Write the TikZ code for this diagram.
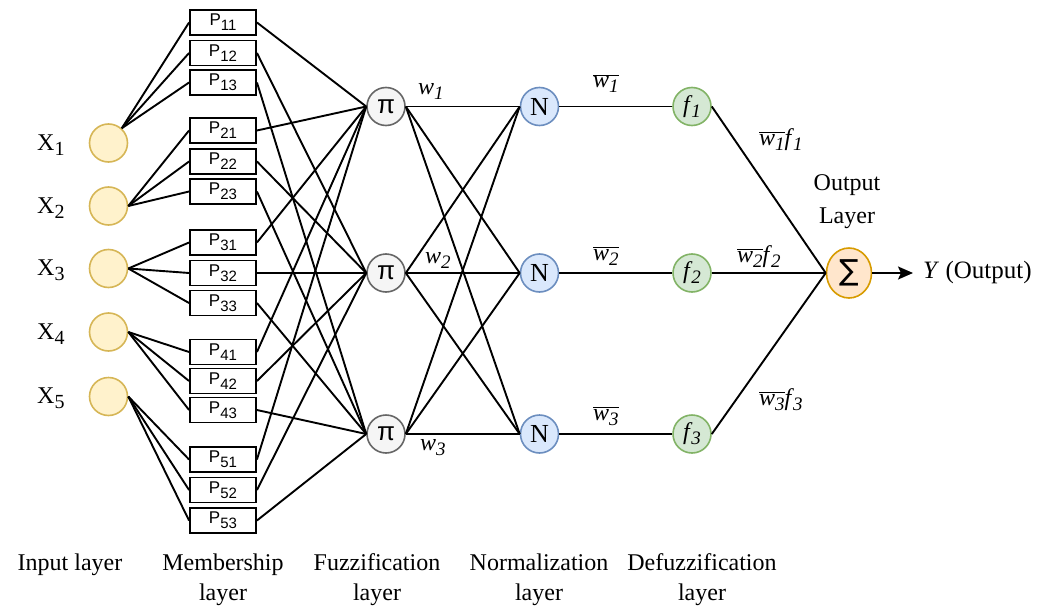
\documentclass[tikz,border=0pt]{standalone}
\usepackage{fontspec}
\setmainfont{Liberation Serif}
\newfontfamily\psans{Liberation Sans}
\newfontfamily\dejavu{DejaVu Sans}
\usetikzlibrary{arrows.meta,shapes.geometric}

\definecolor{xfill}{HTML}{FFF2CC}
\definecolor{xdraw}{HTML}{D6B656}
\definecolor{pifill}{HTML}{F5F5F5}
\definecolor{pidraw}{HTML}{666666}
\definecolor{nfill}{HTML}{DAE8FC}
\definecolor{ndraw}{HTML}{6C8EBF}
\definecolor{ffill}{HTML}{D5E8D4}
\definecolor{fdraw}{HTML}{82B366}
\definecolor{sfill}{HTML}{FFE6CC}
\definecolor{sdraw}{HTML}{D79B00}

\newcommand\bigtxt{\fontsize{24}{28}\selectfont}
\newcommand\subtxt[1]{\raisebox{-5pt}{\fontsize{19}{19}\selectfont #1}}
\newcommand\xsub[1]{\raisebox{-5pt}{\fontsize{20}{20}\selectfont #1}}
\newcommand\wsub[1]{\textit{w}\subtxt{\itshape #1}}
\newcommand\fsub[1]{\textit{f}\kern-1pt\subtxt{\itshape #1}}
\newcommand\wbar[1]{$\overline{\hbox{\wsub{#1}}}$}
\newcommand\pbl[1]{{\psans\fontsize{17}{17}\selectfont P\raisebox{-5pt}{\fontsize{15}{15}\selectfont #1}}}

\begin{document}
\begin{tikzpicture}[x=1pt,y=-1pt,
  every node/.style={inner sep=0pt, font=\bigtxt},
  conn/.style={line width=1.9pt, black},
  xnode/.style={circle, minimum size=38pt, fill=xfill, draw=xdraw, line width=1.6pt},
  pbox/.style={rectangle, minimum width=66pt, minimum height=25pt, draw=black, line width=1.9pt, fill=white},
  pinode/.style={circle, minimum size=38pt, fill=pifill, draw=pidraw, line width=1.6pt},
  nnode/.style={circle, minimum size=38pt, fill=nfill, draw=ndraw, line width=1.6pt},
  fnode/.style={circle, minimum size=38pt, fill=ffill, draw=fdraw, line width=1.6pt},
  signode/.style={ellipse, minimum width=45pt, minimum height=50pt, fill=sfill, draw=sdraw, line width=1.6pt},
  lbl/.style={inner sep=0pt, font=\bigtxt}
]
\useasboundingbox (0,0) rectangle (1048,607);

% input nodes and labels
\foreach \i/\y in {1/143,2/206,3/268.5,4/332,5/396.5}{
  \node[xnode] (x\i) at (108.5,\y) {};
  \node[lbl, anchor=base west] (xl\i) at (37,\y+7) {X\xsub{\i}};
}

% membership boxes
\foreach \i/\j/\y in {1/1/22.5,1/2/53,1/3/82.5,
                      2/1/130.5,2/2/161.5,2/3/191.5,
                      3/1/242.5,3/2/273,3/3/303,
                      4/1/352,4/2/381,4/3/410,
                      5/1/459.5,5/2/490,5/3/520.5}{
  \node[pbox] (p\i\j) at (223,\y) {\pbl{\i\j}};
}

% rule, normalization, defuzzification nodes
\foreach \k/\y in {1/106.5,2/273,3/434}{
  \node[pinode] (pi\k) at (386,\y) {{\psans\fontsize{26}{26}\selectfont π}};
  \node[nnode] (n\k) at (539.5,\y) {{\fontsize{26}{26}\selectfont N}};
  \node[fnode] (f\k) at (692,\y) {\fsub{\k}};
}
\node[signode] (sig) at (849,273) {{\dejavu\fontsize{29}{29}\selectfont ∑}};
\coordinate (yend) at (913,273);

% connectors: input -> membership
\foreach \j in {1,2,3}{
  \draw[conn] (x1.48) -- (p1\j.west);
  \foreach \i in {2,3,4,5}{
    \draw[conn] (x\i.east) -- (p\i\j.west);
  }
}
% membership -> rules
\foreach \i in {1,...,5}{
  \foreach \j in {1,2,3}{
    \draw[conn] (p\i\j.east) -- (pi\j.west);
  }
}
% rules -> normalization
\foreach \a in {1,2,3}{
  \foreach \b in {1,2,3}{
    \draw[conn] (pi\a.east) -- (n\b.west);
  }
  \draw[conn] (n\a.east) -- (f\a.west);
  \draw[conn] (f\a.east) -- (sig.west);
}
\draw[conn, -{Stealth[length=15pt, width=13pt, inset=3pt]}] (sig.east) -- (yend);

% edge labels
\node[lbl, anchor=base west] (lw1) at (418,95) {\wsub{1}};
\node[lbl, anchor=base west] (lw2) at (425,263) {\wsub{2}};
\node[lbl, anchor=base west] (lw3) at (420,450) {\wsub{3}};
\node[lbl, anchor=base west] (lwb1) at (593,88) {\wbar{1}};
\node[lbl, anchor=base west] (lwb2) at (593,260) {\wbar{2}};
\node[lbl, anchor=base west] (lwb3) at (593,420) {\wbar{3}};
\node[lbl, anchor=base west] (lwf1) at (759,145) {\wbar{1}\fsub{1}};
\node[lbl, anchor=base west] (lwf2) at (737,262) {\wbar{2}\fsub{2}};
\node[lbl, anchor=base west] (lwf3) at (759,405) {\wbar{3}\fsub{3}};
\node[lbl, anchor=base] (lout1) at (847,190.7) {Output};
\node[lbl, anchor=base] (lout2) at (847,223) {Layer};
\node[lbl, anchor=base west] (ly) at (923,278) {{\fontsize{25}{28}\selectfont\textit{Y} (Output)}};

% layer titles
\node[lbl, anchor=base] (t1) at (70,570) {Input layer};
\node[lbl, anchor=base] (t2a) at (223,570) {Membership};
\node[lbl, anchor=base] (t2b) at (223,600) {layer};
\node[lbl, anchor=base] (t3a) at (377,570) {Fuzzification};
\node[lbl, anchor=base] (t3b) at (377,600) {layer};
\node[lbl, anchor=base] (t4a) at (539,570) {Normalization};
\node[lbl, anchor=base] (t4b) at (539,600) {layer};
\node[lbl, anchor=base] (t5a) at (702,570) {Defuzzification};
\node[lbl, anchor=base] (t5b) at (702,600) {layer};
\end{tikzpicture}
\end{document}
